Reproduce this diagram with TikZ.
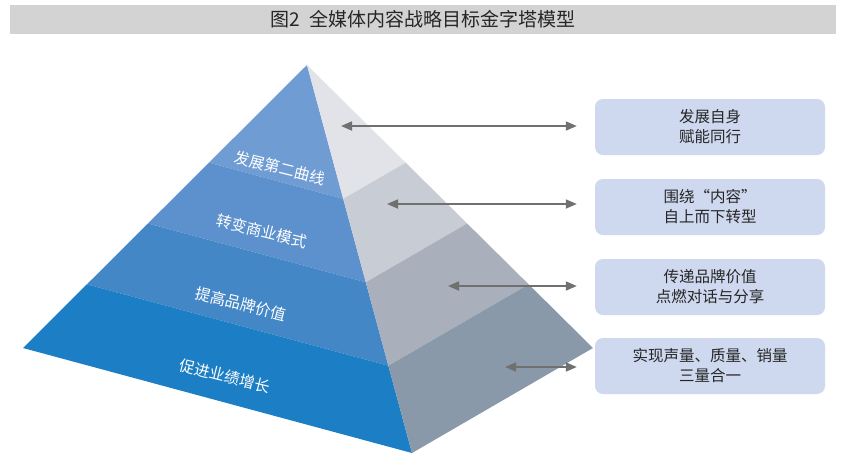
\documentclass[tikz,border=0pt]{standalone}
\usepackage{fontspec}
\setmainfont{Noto Sans CJK SC}
\usetikzlibrary{positioning,arrows.meta,calc}
\definecolor{titlegray}{HTML}{D3D3D3}
\definecolor{boxblue}{HTML}{CED8EE}
\definecolor{arrowgray}{HTML}{707070}
\definecolor{leftA}{HTML}{709CD4}
\definecolor{leftB}{HTML}{5C91CD}
\definecolor{leftC}{HTML}{4487C6}
\definecolor{leftD}{HTML}{1C7EC5}
\definecolor{rightA}{HTML}{E1E3E8}
\definecolor{rightB}{HTML}{C8CCD4}
\definecolor{rightC}{HTML}{A9B0BC}
\definecolor{rightD}{HTML}{8999AA}
\tikzset{
  >={Triangle[length=11pt,width=9pt]},
  titlebar/.style={fill=titlegray,minimum width=826pt,minimum height=29pt,
    inner sep=0pt,text=black!85,font=\fontsize{19}{21}\selectfont},
  goalbox/.style={fill=boxblue,rounded corners=8pt,minimum width=230pt,
    minimum height=56pt,align=center,inner sep=2pt,text=black!85,
    font=\fontsize{15.5}{20}\selectfont},
  lvllbl/.style={text=white,rotate=-14,inner sep=0pt,
    font=\fontsize{15.5}{18}\selectfont},
  link/.style={<->,line width=1.7pt,draw=arrowgray,shorten >=18pt},
}
\begin{document}
\begin{tikzpicture}[x=1pt,y=-1pt]
  \useasboundingbox (0,0) rectangle (844,459);
  \node[titlebar] (title) at (423,19) {图2\hspace{0.5em}全媒体内容战略目标金字塔模型};
  % pyramid corners
  \coordinate (apex) at (307,65);
  \coordinate (bl) at (23,348);
  \coordinate (bf) at (412,453);
  \coordinate (br) at (593,348);
  \foreach \ta/\tb/\cl/\cr in {0/0.345/leftA/rightA,0.345/0.56/leftB/rightB,
      0.56/0.775/leftC/rightC,0.775/1/leftD/rightD}{
    \fill[\cl] ($(apex)!\ta!(bl)$) -- ($(apex)!\tb!(bl)$)
      -- ($(apex)!\tb!(bf)$) -- ($(apex)!\ta!(bf)$) -- cycle;
    \fill[\cr] ($(apex)!\ta!(bf)$) -- ($(apex)!\tb!(bf)$)
      -- ($(apex)!\tb!(br)$) -- ($(apex)!\ta!(br)$) -- cycle;
  }
  \node[lvllbl] (lvl1) at (280,168) {发展第二曲线};
  \node[lvllbl] (lvl2) at (262,231) {转变商业模式};
  \node[lvllbl] (lvl3) at (241,304) {提高品牌价值};
  \node[lvllbl] (lvl4) at (225,376) {促进业绩增长};
  % goals
  \node[goalbox] (goal1) at (710,127) {发展自身\\赋能同行};
  \node[goalbox] (goal2) at (710,207) {围绕“内容”\\自上而下转型};
  \node[goalbox] (goal3) at (710,287) {传递品牌价值\\点燃对话与分享};
  \node[goalbox] (goal4) at (710,366) {实现声量、质量、销量\\三量合一};
  \coordinate (p1) at (341,126);
  \coordinate (p2) at (387,204);
  \coordinate (p3) at (448,286);
  \coordinate (p4) at (505,367);
  \foreach \i in {1,...,4}
    \draw[link] (p\i) -- (p\i -| goal\i.west);
\end{tikzpicture}
\end{document}
